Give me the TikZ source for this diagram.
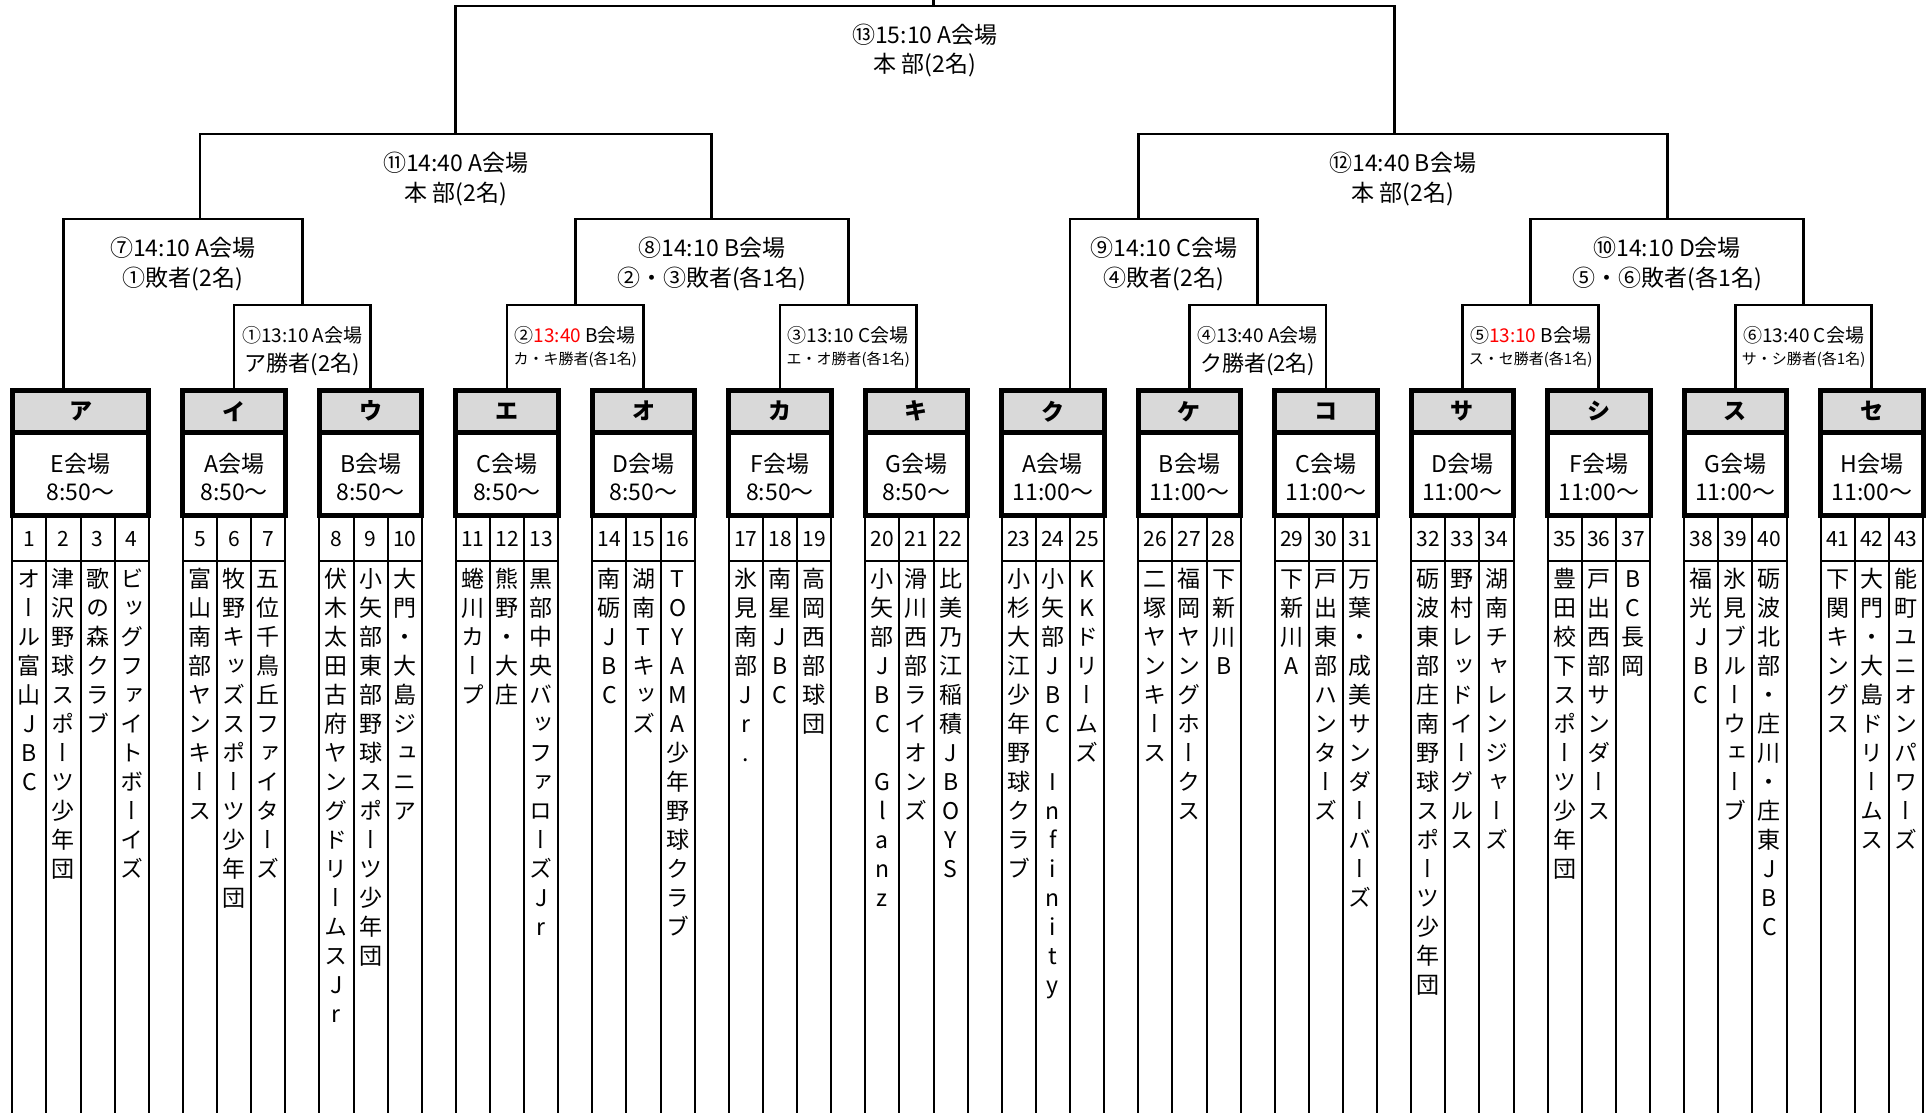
\documentclass[tikz,border=0pt]{standalone}
\usepackage{fontspec}
\setmainfont{Noto Sans CJK JP}
\newfontfamily\tatefont[RawFeature=+vert]{Noto Sans CJK JP}
\definecolor{headgray}{RGB}{217,217,217}
\makeatletter
\newcommand\tatename[1]{\vtop{\baselineskip=29pt\lineskiplimit=-100pt\lineskip=0pt\tate@next#1\relax}}
\def\tate@next#1{\ifx#1\relax\else\hbox to 0pt{\hss#1\hss}\expandafter\tate@next\fi}
\makeatother
\tikzset{
  bracket/.style={line width=2.8pt},
  grid/.style={line width=2pt},
  groupbox/.style={draw, rectangle, line width=5pt, inner sep=0pt},
  headbox/.style={groupbox, fill=headgray, minimum height=42.5pt, font=\bfseries\fontsize{23}{23}\selectfont},
  venuebox/.style={groupbox, fill=white, minimum height=83pt, align=center, font=\fontsize{23}{27.5}\selectfont},
  venuetext/.style={inner sep=0pt, align=center, font=\fontsize{23}{27.5}\selectfont},
  wide4/.style={minimum width=136.48pt},
  wide3/.style={minimum width=102.36pt},
  lblbig/.style={anchor=base, inner sep=0pt, font=\fontsize{23}{23}\selectfont},
  lblmid/.style={anchor=base, inner sep=0pt, font=\fontsize{19}{19}\selectfont},
  lblwin/.style={anchor=base, inner sep=0pt, font=\fontsize{22}{22}\selectfont},
  lblsmall/.style={anchor=base, inner sep=0pt, font=\fontsize{15}{15}\selectfont},
  tnum/.style={anchor=base, inner sep=0pt, font=\fontsize{21}{21}\selectfont},
  tname/.style={anchor=base, inner sep=0pt, font=\tatefont\fontsize{23}{29}\selectfont}
}

\begin{document}
\begin{tikzpicture}[x=34.12pt, y=-1pt]
		\useasboundingbox (-0.3605,0) rectangle (56.234,1113);
		% Table lines under the groups:
		\foreach \s/\n in {0/4,5/3,9/3,13/3,17/3,21/3,25/3,29/3,33/3,37/3,41/3,45/3,49/3,53/3}{
			\draw[grid] (\s,561) -- ++(\n,0);
			\foreach \c in {0,...,\n} \draw[grid] (\s+\c,515.5) -- (\s+\c,1113);
		}
		% Bracket ends:
		\coordinate (top) at (27,0);
		\coordinate (m13l) at (13,6); \coordinate (m13r) at (40.5,6);
		\coordinate (m11l) at (5.5,134); \coordinate (m11r) at (20.5,134);
		\coordinate (m12l) at (33,134); \coordinate (m12r) at (48.5,134);
		\coordinate (m7l) at (1.5,219); \coordinate (m7r) at (8.5,219);
		\coordinate (m8l) at (16.5,219); \coordinate (m8r) at (24.5,219);
		\coordinate (m9l) at (31,219); \coordinate (m9r) at (36.5,219);
		\coordinate (m10l) at (44.5,219); \coordinate (m10r) at (52.5,219);
		\coordinate (m1l) at (6.5,305); \coordinate (m1r) at (10.5,305);
		\coordinate (m2l) at (14.5,305); \coordinate (m2r) at (18.5,305);
		\coordinate (m3l) at (22.5,305); \coordinate (m3r) at (26.5,305);
		\coordinate (m4l) at (34.5,305); \coordinate (m4r) at (38.5,305);
		\coordinate (m5l) at (42.5,305); \coordinate (m5r) at (46.5,305);
		\coordinate (m6l) at (50.5,305); \coordinate (m6r) at (54.5,305);
		% Group boxes:
		\node[headbox, wide4] (hA) at (2,411.25) {ア};
		\node[venuebox, wide4] (vA) at (2,474) {};
		\node[headbox, wide3] (hI) at (6.5,411.25) {イ};
		\node[venuebox, wide3] (vI) at (6.5,474) {};
		\node[headbox, wide3] (hU) at (10.5,411.25) {ウ};
		\node[venuebox, wide3] (vU) at (10.5,474) {};
		\node[headbox, wide3] (hE) at (14.5,411.25) {エ};
		\node[venuebox, wide3] (vE) at (14.5,474) {};
		\node[headbox, wide3] (hO) at (18.5,411.25) {オ};
		\node[venuebox, wide3] (vO) at (18.5,474) {};
		\node[headbox, wide3] (hKa) at (22.5,411.25) {カ};
		\node[venuebox, wide3] (vKa) at (22.5,474) {};
		\node[headbox, wide3] (hKi) at (26.5,411.25) {キ};
		\node[venuebox, wide3] (vKi) at (26.5,474) {};
		\node[headbox, wide3] (hKu) at (30.5,411.25) {ク};
		\node[venuebox, wide3] (vKu) at (30.5,474) {};
		\node[headbox, wide3] (hKe) at (34.5,411.25) {ケ};
		\node[venuebox, wide3] (vKe) at (34.5,474) {};
		\node[headbox, wide3] (hKo) at (38.5,411.25) {コ};
		\node[venuebox, wide3] (vKo) at (38.5,474) {};
		\node[headbox, wide3] (hSa) at (42.5,411.25) {サ};
		\node[venuebox, wide3] (vSa) at (42.5,474) {};
		\node[headbox, wide3] (hSi) at (46.5,411.25) {シ};
		\node[venuebox, wide3] (vSi) at (46.5,474) {};
		\node[headbox, wide3] (hSu) at (50.5,411.25) {ス};
		\node[venuebox, wide3] (vSu) at (50.5,474) {};
		\node[headbox, wide3] (hSe) at (54.5,411.25) {セ};
		\node[venuebox, wide3] (vSe) at (54.5,474) {};
		% Venue and start time:
		\node[venuetext] (wA) at ([yshift=-3pt]vA.center) {E会場\\8:50〜};
		\node[venuetext] (wI) at ([yshift=-3pt]vI.center) {A会場\\8:50〜};
		\node[venuetext] (wU) at ([yshift=-3pt]vU.center) {B会場\\8:50〜};
		\node[venuetext] (wE) at ([yshift=-3pt]vE.center) {C会場\\8:50〜};
		\node[venuetext] (wO) at ([yshift=-3pt]vO.center) {D会場\\8:50〜};
		\node[venuetext] (wKa) at ([yshift=-3pt]vKa.center) {F会場\\8:50〜};
		\node[venuetext] (wKi) at ([yshift=-3pt]vKi.center) {G会場\\8:50〜};
		\node[venuetext] (wKu) at ([yshift=-3pt]vKu.center) {A会場\\11:00〜};
		\node[venuetext] (wKe) at ([yshift=-3pt]vKe.center) {B会場\\11:00〜};
		\node[venuetext] (wKo) at ([yshift=-3pt]vKo.center) {C会場\\11:00〜};
		\node[venuetext] (wSa) at ([yshift=-3pt]vSa.center) {D会場\\11:00〜};
		\node[venuetext] (wSi) at ([yshift=-3pt]vSi.center) {F会場\\11:00〜};
		\node[venuetext] (wSu) at ([yshift=-3pt]vSu.center) {G会場\\11:00〜};
		\node[venuetext] (wSe) at ([yshift=-3pt]vSe.center) {H会場\\11:00〜};
		% Bracket lines:
		\draw[bracket] (top) -- (top |- m13l);
		\draw[bracket] (m13l |- m11l) -- (m13l) -- (m13r) -- (m13r |- m12l);
		\draw[bracket] (m11l |- m7l) -- (m11l) -- (m11r) -- (m11r |- m8l);
		\draw[bracket] (m12l |- m9l) -- (m12l) -- (m12r) -- (m12r |- m10l);
		\draw[bracket] (m7l |- hA.north) -- (m7l) -- (m7r) -- (m7r |- m1l);
		\draw[bracket] (m8l |- m2l) -- (m8l) -- (m8r) -- (m8r |- m3l);
		\draw[bracket] (m9l |- hKu.north) -- (m9l) -- (m9r) -- (m9r |- m4l);
		\draw[bracket] (m10l |- m5l) -- (m10l) -- (m10r) -- (m10r |- m6l);
		\draw[bracket] (hI.north) -- (m1l) -- (m1r) -- (hU.north);
		\draw[bracket] (hE.north) -- (m2l) -- (m2r) -- (hO.north);
		\draw[bracket] (hKa.north) -- (m3l) -- (m3r) -- (hKi.north);
		\draw[bracket] (hKe.north) -- (m4l) -- (m4r) -- (hKo.north);
		\draw[bracket] (hSa.north) -- (m5l) -- (m5r) -- (hSi.north);
		\draw[bracket] (hSu.north) -- (m6l) -- (m6r) -- (hSe.north);
		% Match labels:
		\node[lblbig] (l13a) at (26.75,43.3) {⑬15:10 A会場};
		\node[lblbig] (l13b) at (26.75,72.8) {本 部(2名)};
		\node[lblbig] (l11a) at (13,171.7) {⑪14:40 A会場};
		\node[lblbig] (l11b) at (13,201.7) {本 部(2名)};
		\node[lblbig] (l12a) at (40.75,171.7) {⑫14:40 B会場};
		\node[lblbig] (l12b) at (40.75,201.7) {本 部(2名)};
		\node[lblbig] (l7a) at (5,256.7) {⑦14:10 A会場};
		\node[lblbig] (l7b) at (5,286.7) {①敗者(2名)};
		\node[lblbig] (l8a) at (20.5,256.7) {⑧14:10 B会場};
		\node[lblbig] (l8b) at (20.5,286.7) {②・③敗者(各1名)};
		\node[lblbig] (l9a) at (33.75,256.7) {⑨14:10 C会場};
		\node[lblbig] (l9b) at (33.75,286.7) {④敗者(2名)};
		\node[lblbig] (l10a) at (48.5,256.7) {⑩14:10 D会場};
		\node[lblbig] (l10b) at (48.5,286.7) {⑤・⑥敗者(各1名)};
		\node[lblmid] (l1a) at (8.5,342.2) {①13:10 A会場};
		\node[lblwin] (l1b) at (8.5,371) {ア勝者(2名)};
		\node[lblmid] (l2a) at (16.5,342.2) {②{\color{red}13:40} B会場};
		\node[lblsmall] (l2b) at (16.5,364.7) {カ・キ勝者(各1名)};
		\node[lblmid] (l3a) at (24.5,342.2) {③13:10 C会場};
		\node[lblsmall] (l3b) at (24.5,364.7) {エ・オ勝者(各1名)};
		\node[lblmid] (l4a) at (36.5,342.2) {④13:40 A会場};
		\node[lblwin] (l4b) at (36.5,371) {ク勝者(2名)};
		\node[lblmid] (l5a) at (44.5,342.2) {⑤{\color{red}13:10} B会場};
		\node[lblsmall] (l5b) at (44.5,364.7) {ス・セ勝者(各1名)};
		\node[lblmid] (l6a) at (52.5,342.2) {⑥13:40 C会場};
		\node[lblsmall] (l6b) at (52.5,364.7) {サ・シ勝者(各1名)};
		% Teams:
		\node[tnum] (n1) at (0.5,546.5) {1}; \node[tname] (t1) at (0.5,587) {\tatename{オール富山JBC}};
		\node[tnum] (n2) at (1.5,546.5) {2}; \node[tname] (t2) at (1.5,587) {\tatename{津沢野球スポーツ少年団}};
		\node[tnum] (n3) at (2.5,546.5) {3}; \node[tname] (t3) at (2.5,587) {\tatename{歌の森クラブ}};
		\node[tnum] (n4) at (3.5,546.5) {4}; \node[tname] (t4) at (3.5,587) {\tatename{ビッグファイトボーイズ}};
		\node[tnum] (n5) at (5.5,546.5) {5}; \node[tname] (t5) at (5.5,587) {\tatename{富山南部ヤンキース}};
		\node[tnum] (n6) at (6.5,546.5) {6}; \node[tname] (t6) at (6.5,587) {\tatename{牧野キッズスポーツ少年団}};
		\node[tnum] (n7) at (7.5,546.5) {7}; \node[tname] (t7) at (7.5,587) {\tatename{五位千鳥丘ファイターズ}};
		\node[tnum] (n8) at (9.5,546.5) {8}; \node[tname] (t8) at (9.5,587) {\tatename{伏木太田古府ヤングドリームスJr}};
		\node[tnum] (n9) at (10.5,546.5) {9}; \node[tname] (t9) at (10.5,587) {\tatename{小矢部東部野球スポーツ少年団}};
		\node[tnum] (n10) at (11.5,546.5) {10}; \node[tname] (t10) at (11.5,587) {\tatename{大門・大島ジュニア}};
		\node[tnum] (n11) at (13.5,546.5) {11}; \node[tname] (t11) at (13.5,587) {\tatename{蜷川カープ}};
		\node[tnum] (n12) at (14.5,546.5) {12}; \node[tname] (t12) at (14.5,587) {\tatename{熊野・大庄}};
		\node[tnum] (n13) at (15.5,546.5) {13}; \node[tname] (t13) at (15.5,587) {\tatename{黒部中央バッファローズJr}};
		\node[tnum] (n14) at (17.5,546.5) {14}; \node[tname] (t14) at (17.5,587) {\tatename{南砺JBC}};
		\node[tnum] (n15) at (18.5,546.5) {15}; \node[tname] (t15) at (18.5,587) {\tatename{湖南Tキッズ}};
		\node[tnum] (n16) at (19.5,546.5) {16}; \node[tname] (t16) at (19.5,587) {\tatename{TOYAMA少年野球クラブ}};
		\node[tnum] (n17) at (21.5,546.5) {17}; \node[tname] (t17) at (21.5,587) {\tatename{氷見南部Jr.}};
		\node[tnum] (n18) at (22.5,546.5) {18}; \node[tname] (t18) at (22.5,587) {\tatename{南星JBC}};
		\node[tnum] (n19) at (23.5,546.5) {19}; \node[tname] (t19) at (23.5,587) {\tatename{高岡西部球団}};
		\node[tnum] (n20) at (25.5,546.5) {20}; \node[tname] (t20) at (25.5,587) {\tatename{小矢部JBC　Glanz}};
		\node[tnum] (n21) at (26.5,546.5) {21}; \node[tname] (t21) at (26.5,587) {\tatename{滑川西部ライオンズ}};
		\node[tnum] (n22) at (27.5,546.5) {22}; \node[tname] (t22) at (27.5,587) {\tatename{比美乃江稲積JBOYS}};
		\node[tnum] (n23) at (29.5,546.5) {23}; \node[tname] (t23) at (29.5,587) {\tatename{小杉大江少年野球クラブ}};
		\node[tnum] (n24) at (30.5,546.5) {24}; \node[tname] (t24) at (30.5,587) {\tatename{小矢部JBC　Infinity}};
		\node[tnum] (n25) at (31.5,546.5) {25}; \node[tname] (t25) at (31.5,587) {\tatename{KKドリームズ}};
		\node[tnum] (n26) at (33.5,546.5) {26}; \node[tname] (t26) at (33.5,587) {\tatename{二塚ヤンキース}};
		\node[tnum] (n27) at (34.5,546.5) {27}; \node[tname] (t27) at (34.5,587) {\tatename{福岡ヤングホークス}};
		\node[tnum] (n28) at (35.5,546.5) {28}; \node[tname] (t28) at (35.5,587) {\tatename{下新川B}};
		\node[tnum] (n29) at (37.5,546.5) {29}; \node[tname] (t29) at (37.5,587) {\tatename{下新川A}};
		\node[tnum] (n30) at (38.5,546.5) {30}; \node[tname] (t30) at (38.5,587) {\tatename{戸出東部ハンターズ}};
		\node[tnum] (n31) at (39.5,546.5) {31}; \node[tname] (t31) at (39.5,587) {\tatename{万葉・成美サンダーバーズ}};
		\node[tnum] (n32) at (41.5,546.5) {32}; \node[tname] (t32) at (41.5,587) {\tatename{砺波東部庄南野球スポーツ少年団}};
		\node[tnum] (n33) at (42.5,546.5) {33}; \node[tname] (t33) at (42.5,587) {\tatename{野村レッドイーグルス}};
		\node[tnum] (n34) at (43.5,546.5) {34}; \node[tname] (t34) at (43.5,587) {\tatename{湖南チャレンジャーズ}};
		\node[tnum] (n35) at (45.5,546.5) {35}; \node[tname] (t35) at (45.5,587) {\tatename{豊田校下スポーツ少年団}};
		\node[tnum] (n36) at (46.5,546.5) {36}; \node[tname] (t36) at (46.5,587) {\tatename{戸出西部サンダース}};
		\node[tnum] (n37) at (47.5,546.5) {37}; \node[tname] (t37) at (47.5,587) {\tatename{BC長岡}};
		\node[tnum] (n38) at (49.5,546.5) {38}; \node[tname] (t38) at (49.5,587) {\tatename{福光JBC}};
		\node[tnum] (n39) at (50.5,546.5) {39}; \node[tname] (t39) at (50.5,587) {\tatename{氷見ブルーウェーブ}};
		\node[tnum] (n40) at (51.5,546.5) {40}; \node[tname] (t40) at (51.5,587) {\tatename{砺波北部・庄川・庄東JBC}};
		\node[tnum] (n41) at (53.5,546.5) {41}; \node[tname] (t41) at (53.5,587) {\tatename{下関キングス}};
		\node[tnum] (n42) at (54.5,546.5) {42}; \node[tname] (t42) at (54.5,587) {\tatename{大門・大島ドリームス}};
		\node[tnum] (n43) at (55.5,546.5) {43}; \node[tname] (t43) at (55.5,587) {\tatename{能町ユニオンパワーズ}};
	\end{tikzpicture}
\end{document}
